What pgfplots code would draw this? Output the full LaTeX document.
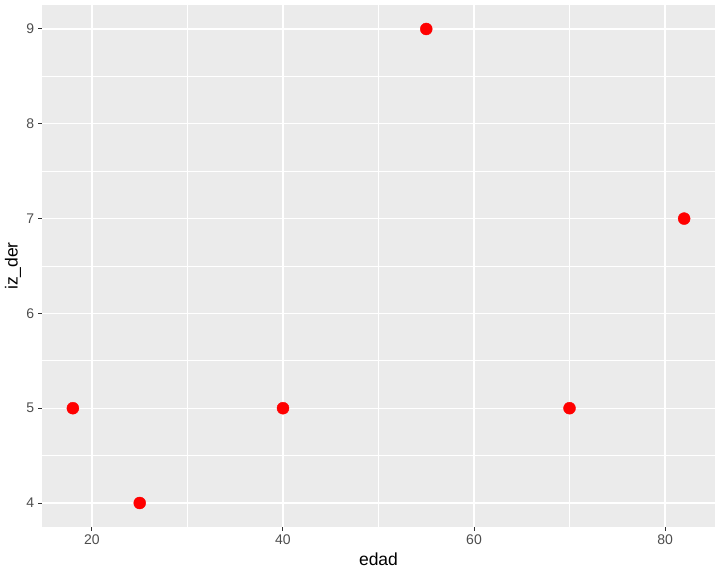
\documentclass[border=0pt]{standalone}
\usepackage{fontspec}
\setmainfont{Liberation Sans}
\usepackage{pgfplots}
\pgfplotsset{compat=1.18}
\definecolor{panelbg}{HTML}{EBEBEB}
\definecolor{grey30}{HTML}{4D4D4D}
\definecolor{grey20}{HTML}{333333}
\begin{document}
\begin{tikzpicture}[x=1pt,y=1pt]
\useasboundingbox (0,0) rectangle (720,576);
\begin{axis}[
  at={(42.3pt,49.3pt)}, anchor=south west,
  scale only axis, width=672.4pt, height=521.4pt,
  xmin=14.8, xmax=85.2, ymin=3.75, ymax=9.25,
  xtick={20,40,60,80}, ytick={4,5,6,7,8,9},
  minor xtick={10,30,50,70}, minor ytick={4.5,5.5,6.5,7.5,8.5},
  grid=both,
  axis background/.style={fill=panelbg},
  axis line style={draw=none},
  major grid style={white, line width=1.4pt},
  minor grid style={white, line width=0.7pt},
  tick align=outside, tick pos=left,
  major tick length=4pt, minor tick length=0pt,
  tick style={grey20, line width=1pt},
  /pgf/number format/assume math mode=true,
  ticklabel style={font=\fontsize{14}{16}\selectfont, text=grey30},
  xticklabel style={yshift=-0.5pt},
  yticklabel style={xshift=-0.5pt},
  xlabel={edad}, ylabel={iz\_der},
  label style={font=\fontsize{17.5}{20}\selectfont, text=black},
  xlabel style={at={(axis description cs:0.5,-0.062)}, anchor=center},
  ylabel style={at={(axis description cs:-0.0435,0.5)}, anchor=center, rotate=0},
  clip=false,
]
\addplot[only marks, mark=*, mark size=6pt, red, mark options={fill=red, draw=red}]
  coordinates {(18,5) (25,4) (40,5) (55,9) (70,5) (82,7)};
\end{axis}
\end{tikzpicture}
\end{document}
